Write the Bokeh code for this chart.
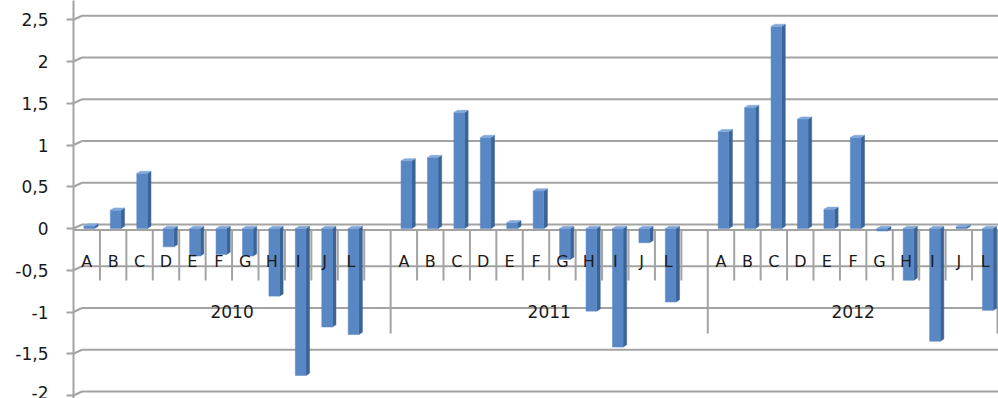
from bokeh.plotting import figure
from bokeh.models import Range1d, FixedTicker
from bokeh.core.properties import value
from bokeh.embed import file_html
from bokeh.resources import INLINE

# --- data -------------------------------------------------------------
categories = ["A", "B", "C", "D", "E", "F", "G", "H", "I", "J", "L"]
years = ["2010", "2011", "2012"]
values_2010 = [0.03, 0.22, 0.66, -0.22, -0.33, -0.31, -0.33, -0.81, -1.76, -1.18, -1.27]
values_2011 = [0.81, 0.85, 1.39, 1.09, 0.07, 0.45, -0.37, -0.99, -1.42, -0.17, -0.88]
values_2012 = [1.16, 1.45, 2.42, 1.31, 0.23, 1.09, -0.03, -0.62, -1.35, 0.02, -0.98]
# each year's category slots; "" is an empty slot
year_categories = [categories + [""], categories + [""], categories]
tick_values = [2.5, 2, 1.5, 1, 0.5, 0, -0.5, -1, -1.5, -2]
tick_labels = ["2,5", "2", "1,5", "1", "0,5", "0", "-0,5", "-1", "-1,5", "-2"]

series = [values_2010, values_2011, values_2012]

# --- geometry (pixels) ----------------------------------------------------
W, H = 998, 398
LEFT = 73
ZERO_PX = 228.0
PX_PER_UNIT = 83.5
n_slots = sum(len(c) for c in year_categories)
px_per_slot = (W - LEFT) / n_slots


def ux(px):
    return px / px_per_slot


def uy(px):
    return px / PX_PER_UNIT


y_top = uy(ZERO_PX)
y_bot = -uy(H - ZERO_PX)

GRID = "#a3a3a3"
FRONT = "#5887c4"
SIDE = "#3a6396"
TOP = "#80a8da"
FONT = value("DejaVu Sans")

p = figure(width=W, height=H, x_range=Range1d(0, n_slots), y_range=Range1d(y_bot, y_top),
           x_axis_type=None, output_backend="svg", toolbar_location=None,
           min_border_left=LEFT, min_border_right=0, min_border_top=0, min_border_bottom=0)
p.xgrid.visible = False
p.ygrid.visible = False
p.outline_line_color = None
p.background_fill_color = "white"
p.border_fill_color = "white"

# value axis
ax = p.yaxis[0]
ax.ticker = FixedTicker(ticks=tick_values)
ax.major_label_overrides = {float(t): l for t, l in zip(tick_values, tick_labels)}
ax.axis_line_color = GRID
ax.axis_line_width = 2
ax.major_tick_line_color = GRID
ax.major_tick_line_width = 2
ax.major_tick_out = 7
ax.major_tick_in = 0
ax.minor_tick_line_color = None
ax.major_label_standoff = 18
ax.major_label_text_font = "DejaVu Sans"
ax.major_label_text_font_size = "17px"
ax.major_label_text_color = "#1a1a1a"

# back-wall gridlines with the 3D depth stub from the axis
depth_x, depth_y = ux(8.5), uy(4.0)
p.segment(x0=[0] * len(tick_values), y0=tick_values,
          x1=[depth_x] * len(tick_values), y1=[t + depth_y for t in tick_values],
          line_color=GRID, line_width=2)
p.segment(x0=[depth_x] * len(tick_values), y0=[t + depth_y for t in tick_values],
          x1=[n_slots] * len(tick_values), y1=[t + depth_y for t in tick_values],
          line_color=GRID, line_width=2)

# front edge of the floor (category axis line)
floor_y = -uy(1.5)
p.segment(x0=[0], y0=[floor_y], x1=[n_slots], y1=[floor_y], line_color=GRID, line_width=2)

# category dividers and group dividers
group_edges = []
start = 0
for cats in year_categories:
    group_edges.append((start, start + len(cats)))
    start += len(cats)
inner_x, group_x = [], []
for g0, g1 in group_edges:
    group_x.append(g1 if g1 < n_slots else g1 - ux(1))
    inner_x.extend(range(g0 + 1, g1))
p.segment(x0=inner_x, y0=[floor_y] * len(inner_x), x1=inner_x, y1=[-uy(52)] * len(inner_x),
          line_color=GRID, line_width=2)
p.segment(x0=group_x, y0=[floor_y] * len(group_x), x1=group_x, y1=[-uy(105)] * len(group_x),
          line_color=GRID, line_width=2)

# bars with a 3D side and cap
bar_l, bar_r, bar_v, lab_x, lab_t = [], [], [], [], []
for (g0, g1), cats, vals in zip(group_edges, year_categories, series):
    for i, cat in enumerate(cats):
        c = g0 + i + 0.5
        if cat:
            lab_x.append(c)
            lab_t.append(cat)
        if i < len(vals):
            bar_l.append(c - ux(2.8))
            bar_r.append(c + ux(7.8))
            bar_v.append(vals[i])

sx, sy = ux(3.6), uy(2.2)
side_xs, side_ys, top_xs, top_ys = [], [], [], []
for l, r, v in zip(bar_l, bar_r, bar_v):
    side_xs.append([r, r + sx, r + sx, r])
    side_ys.append([0, sy, v + sy, v])
    cap = max(v, 0)
    top_xs.append([l, l + sx, r + sx, r])
    top_ys.append([cap, cap + sy, cap + sy, cap])

p.patches(xs=side_xs, ys=side_ys, fill_color=SIDE, line_color=SIDE, line_width=0.5)
p.quad(left=bar_l, right=bar_r, bottom=[0] * len(bar_v), top=bar_v,
       fill_color=FRONT, line_color=FRONT, line_width=0.5)
p.patches(xs=top_xs, ys=top_ys, fill_color=TOP, line_color=TOP, line_width=0.5)

# category and year labels
p.text(x=lab_x, y=[-uy(33)] * len(lab_x), text=lab_t, text_font=FONT,
       text_font_size=value("16px"), text_align="center", text_baseline="middle",
       text_color="#1a1a1a")
year_x = [(g0 + g1) / 2 for g0, g1 in group_edges]
p.text(x=year_x, y=[-uy(83)] * len(year_x), text=years, text_font=FONT,
       text_font_size=value("17px"), text_align="center", text_baseline="middle",
       text_color="#1a1a1a")

open("out.html", "w").write(file_html(p, INLINE))
